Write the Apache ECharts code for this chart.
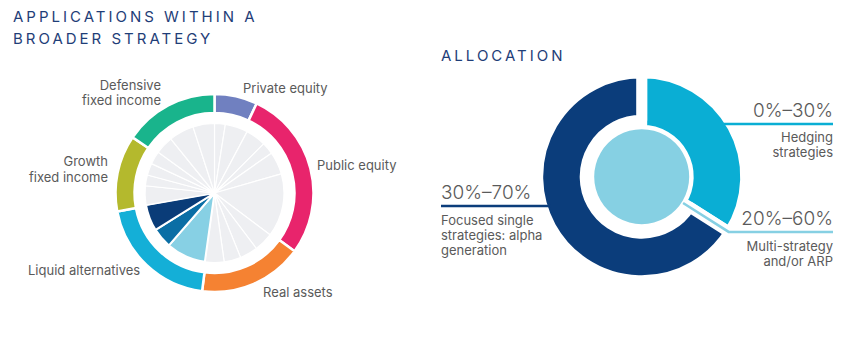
<!DOCTYPE html>
<html>
<head>
<meta charset="utf-8">
<script src="https://cdn.jsdelivr.net/npm/echarts@6/dist/echarts.min.js"></script>
<style>
html,body{margin:0;padding:0;background:#fff;}
#c{width:850px;height:340px;}
#c text[fill="#1f3e78"]{letter-spacing:3px;}
</style>
</head>
<body>
<div id="c"></div>
<script>
// ---------- DATA ----------
// Left chart: outer ring (asset classes, share of portfolio %)
const assetClasses = ['Private equity', 'Public equity', 'Real assets', 'Liquid alternatives', 'Growth fixed income', 'Defensive fixed income'];
const assetLabels = ['Private equity', 'Public equity', 'Real assets', 'Liquid alternatives', 'Growth\nfixed income', 'Defensive\nfixed income'];
const assetShares = [7, 28, 17, 20, 12.5, 15.5];

// Left chart: inner pie slices (clockwise from top) and which are highlighted
const portfolioSlices = [9, 19, 17, 10, 19, 53, 16, 15, 14, 16, 33, 17, 22, 16, 9, 10, 11, 15, 21, 18];
const portfolioSliceKinds = ['other', 'other', 'other', 'other', 'other', 'other', 'other', 'other', 'other', 'other',
  'light', 'medium', 'navy', 'other', 'other', 'other', 'other', 'other', 'other', 'other'];

// Right chart: allocation ring
const allocationNames = ['Hedging strategies', 'Focused single strategies: alpha generation'];
const allocationLabels = ['Hedging\nstrategies', 'Focused single\nstrategies: alpha\ngeneration'];
const allocationRanges = ['0%–30%', '30%–70%'];
const allocationShares = [34, 66];

// Right chart: core
const coreNames = ['Multi-strategy and/or ARP'];
const coreLabels = ['Multi-strategy\nand/or ARP'];
const coreRanges = ['20%–60%'];
const coreShares = [100];

const titles = ['APPLICATIONS WITHIN A\nBROADER STRATEGY', 'ALLOCATION'];

// ---------- STYLE ----------
const FONT = 'Inter, "Noto Sans", "Liberation Sans", sans-serif';
const TEXT = '#5a5a5a';
const TITLE_COLOR = '#1f3e78';
const ringColors = ['#7080c0', '#e8246c', '#f58232', '#14afd7', '#b4b92d', '#19b48c'];
const innerColors = { other: '#eeeff2', light: '#87d0e4', medium: '#0a6ea5', navy: '#0a3c78' };
const allocColors = ['#0aaed4', '#0b3d7b'];
const coreColor = '#86d0e3';

const LC = [214.5, 193];
const RC = [641.7, 176.7];
const GAP = 11;

const chart = echarts.init(document.getElementById('c'), null, { renderer: 'svg', width: 850, height: 340 });

// left labels positions [x, y, align, lineHeight]
const leftLabelPos = [[243, 88, 'left', 15], [317, 165, 'left', 15], [263, 292, 'left', 15], [28, 270, 'left', 15], [108, 169, 'right', 16], [161, 92.5, 'right', 15.5]];

const graphics = [];
assetLabels.forEach((t, i) => {
  const p = leftLabelPos[i];
  graphics.push({ type: 'text', x: p[0], y: p[1], z: 10, silent: true,
    style: { text: t, fill: TEXT, font: '13px ' + FONT, align: p[2], verticalAlign: 'middle', lineHeight: p[3] } });
});

// right chart annotations
const total = allocationShares.reduce((a, b) => a + b, 0);
const boundary = 360 * allocationShares[0] / total; // clockwise from top
const rad = boundary * Math.PI / 180;
const pt = r => [RC[0] + r * Math.sin(rad), RC[1] - r * Math.cos(rad)];
const p1 = pt(49), p2 = pt(103);

const RIGHT_EDGE = 833;
// hedging
graphics.push({ type: 'polyline', z: 10, silent: true, shape: { points: [[721, 124], [RIGHT_EDGE, 124]] }, style: { stroke: allocColors[0], lineWidth: 2.5 } });
graphics.push({ type: 'text', x: RIGHT_EDGE, y: 110, z: 10, silent: true, style: { text: allocationRanges[0], fill: TEXT, font: '300 19px ' + FONT, align: 'right', verticalAlign: 'middle' } });
graphics.push({ type: 'text', x: RIGHT_EDGE, y: 144.5, z: 10, silent: true, style: { text: allocationLabels[0], fill: TEXT, font: '13px ' + FONT, align: 'right', verticalAlign: 'middle', lineHeight: 15 } });
// focused
graphics.push({ type: 'polyline', z: 10, silent: true, shape: { points: [[441, 206], [551, 206]] }, style: { stroke: allocColors[1], lineWidth: 2.5 } });
graphics.push({ type: 'text', x: 441, y: 192, z: 10, silent: true, style: { text: allocationRanges[1], fill: TEXT, font: '300 19px ' + FONT, align: 'left', verticalAlign: 'middle' } });
graphics.push({ type: 'text', x: 441, y: 235, z: 10, silent: true, style: { text: allocationLabels[1], fill: TEXT, font: '13px ' + FONT, align: 'left', verticalAlign: 'middle', lineHeight: 15 } });
// core
graphics.push({ type: 'polyline', z: 10, silent: true, shape: { points: [p1, p2, [RIGHT_EDGE, p2[1]]] }, style: { stroke: coreColor, lineWidth: 2.5 } });
graphics.push({ type: 'text', x: RIGHT_EDGE, y: 218, z: 10, silent: true, style: { text: coreRanges[0], fill: TEXT, font: '300 19px ' + FONT, align: 'right', verticalAlign: 'middle' } });
graphics.push({ type: 'text', x: RIGHT_EDGE, y: 253.5, z: 10, silent: true, style: { text: coreLabels[0], fill: TEXT, font: '13px ' + FONT, align: 'right', verticalAlign: 'middle', lineHeight: 14.5 } });

const option = {
  animation: false,
  backgroundColor: '#fff',
  title: [
    { text: titles[0], left: 13, top: 6, padding: 0, textStyle: { color: TITLE_COLOR, fontFamily: FONT, fontSize: 15, fontWeight: 'normal', lineHeight: 21.5 } },
    { text: titles[1], left: 441, top: 44.25, padding: 0, textStyle: { color: TITLE_COLOR, fontFamily: FONT, fontSize: 15, fontWeight: 'normal', lineHeight: 21.5 } }
  ],
  series: [
    {
      type: 'pie', name: 'Asset classes', center: LC, radius: [80, 99], startAngle: 90, clockwise: true,
      silent: true, label: { show: false }, labelLine: { show: false },
      itemStyle: { borderColor: '#fff', borderWidth: 2.5 },
      data: assetClasses.map((n, i) => ({ name: n, value: assetShares[i], itemStyle: { color: ringColors[i] } }))
    },
    {
      type: 'pie', name: 'Portfolio', center: LC, radius: [0, 69.5], startAngle: 90, clockwise: true,
      silent: true, label: { show: false }, labelLine: { show: false },
      itemStyle: { borderColor: '#fff', borderWidth: 1.2 },
      data: portfolioSlices.map((v, i) => ({ name: 'Slice ' + (i + 1), value: v, itemStyle: { color: innerColors[portfolioSliceKinds[i]], borderWidth: portfolioSliceKinds[i] === 'other' ? 1.2 : 2 } }))
    },
    {
      type: 'pie', name: 'Hedging ring', center: RC, radius: [52 - GAP / 2, 98.5 + GAP / 2], startAngle: 90, clockwise: true,
      silent: true, label: { show: false }, labelLine: { show: false },
      data: allocationNames.map((n, i) => ({ name: n, value: allocationShares[i],
        itemStyle: i === 0 ? { color: allocColors[0], borderColor: '#fff', borderWidth: GAP } : { color: 'rgba(0,0,0,0)', borderWidth: 0 } }))
    },
    {
      type: 'pie', name: 'Focused ring', center: RC, radius: [62 - GAP / 2, 98.5 + GAP / 2], startAngle: 90, clockwise: true,
      silent: true, label: { show: false }, labelLine: { show: false },
      data: allocationNames.map((n, i) => ({ name: n, value: allocationShares[i],
        itemStyle: i === 1 ? { color: allocColors[1], borderColor: '#fff', borderWidth: GAP } : { color: 'rgba(0,0,0,0)', borderWidth: 0 } }))
    },
    {
      type: 'pie', name: 'Core', center: RC, radius: [0, 47.5], startAngle: 90,
      silent: true, label: { show: false }, labelLine: { show: false },
      data: coreNames.map((n, i) => ({ name: n, value: coreShares[i], itemStyle: { color: coreColor, borderWidth: 0 } }))
    }
  ],
  graphic: graphics
};
chart.setOption(option);

const titleLines = titles.join('\n').split('\n');
function spaceTitles() {
  document.querySelectorAll('#c svg text').forEach(t => {
    if (titleLines.includes(t.textContent.trim())) t.setAttribute('letter-spacing', '3');
  });
}
chart.on('finished', spaceTitles);
spaceTitles();
[0, 30, 100, 300, 600].forEach(d => setTimeout(spaceTitles, d));
</script>
</body>
</html>
